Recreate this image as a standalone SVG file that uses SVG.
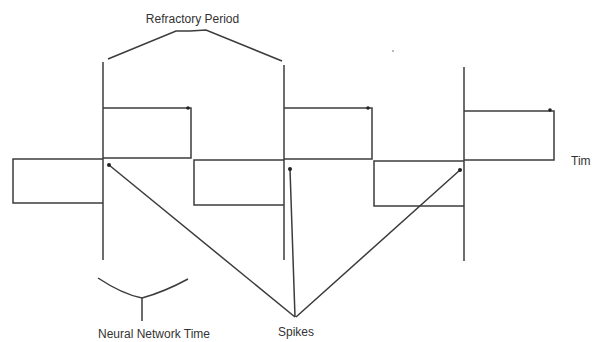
<svg xmlns="http://www.w3.org/2000/svg" width="592" height="342" viewBox="0 0 592 342">
<style>
.ln{fill:none;stroke:#3c3c3c;stroke-width:1.5;stroke-linejoin:miter}
.dot{fill:#222}
.t{font-family:"Liberation Sans",Arial,sans-serif;font-size:12px;fill:#333}
</style>
<rect width="592" height="342" fill="#fff"/>
<g id="cycle1">
<path class="ln" d="M103,62 V260"/>
<path class="ln" d="M103,159 H13 V203 H103"/>
<path class="ln" d="M103,108 H191 V158 H103"/>
<circle class="dot" cx="188" cy="108" r="1.8"/>
</g>
<g id="cycle2">
<path class="ln" d="M284,65 V260"/>
<path class="ln" d="M284,160 H194 V205 H284"/>
<path class="ln" d="M284,108 H372 V159 H284"/>
<circle class="dot" cx="368" cy="108" r="1.8"/>
</g>
<g id="cycle3">
<path class="ln" d="M464,67 V261"/>
<path class="ln" d="M464,161 H374 V206 H464"/>
<path class="ln" d="M464,111 H554 V160 H464"/>
<circle class="dot" cx="550" cy="110" r="1.8"/>
</g>
<g id="refractory">
<path class="ln" d="M108,59 L176,31 L190,31 L206,30 L282,61"/>
<text class="t" x="192.5" y="23" text-anchor="middle">Refractory Period</text>
</g>
<g id="nntime">
<path class="ln" d="M98,278 Q122,294 142,298 Q164,292 188,279 M142,298 V321"/>
<text class="t" x="98" y="338">Neural Network Time</text>
</g>
<g id="connectors">
<path class="ln" d="M109,165 L295,317 M290,169 L295,317 M460,170 L296,317"/>
<circle class="dot" cx="109" cy="165" r="2"/>
<circle class="dot" cx="290" cy="169" r="2"/>
<circle class="dot" cx="460" cy="170" r="2"/>
</g>
<g id="spikes">
<text class="t" x="278" y="336">Spikes</text>
</g>
<g id="time">
<text class="t" x="571" y="165">Tim</text>
</g>
<circle cx="393" cy="51" r="0.9" fill="#999"/>
</svg>
